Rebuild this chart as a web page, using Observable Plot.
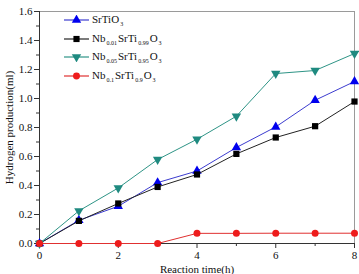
<!DOCTYPE html>
<html>
<head>
<meta charset="utf-8">
<script src="https://cdn.jsdelivr.net/npm/d3@7"></script>
<script src="https://cdn.jsdelivr.net/npm/@observablehq/plot@0.6"></script>
<style>
  html, body { margin: 0; padding: 0; background: #fff; }
  #chart { position: relative; width: 359px; height: 274px; font-family: "Liberation Serif", "Times New Roman", serif; }
  #legend { position: absolute; left: 63px; top: 11px; font-size: 11px; color: #111; }
  #legend .row { display: flex; align-items: center; height: 18.5px; }
  #legend svg { display: block; margin-right: 2px; }
  #legend sub { font-size: 6px; vertical-align: -3px; margin: 0 1px; }
</style>
</head>
<body>
<div id="chart"><div id="legend"></div></div>
<script>
// Reaction time (h)
const hours = [0, 1, 2, 3, 4, 5, 6, 7, 8];
// Hydrogen production (ml) for each photocatalyst
const srtio3 = [0, 0.16, 0.257, 0.42, 0.50, 0.662, 0.804, 0.988, 1.117];
const nb001 = [0, 0.156, 0.276, 0.39, 0.476, 0.618, 0.731, 0.809, 0.979];
const nb005 = [0, 0.225, 0.383, 0.579, 0.719, 0.878, 1.172, 1.193, 1.31];
const nb01 = [0, 0, 0, 0, 0.07, 0.07, 0.071, 0.071, 0.071];

const xMajorTicks = [0, 2, 4, 6, 8];
const xMinorTicks = [1, 3, 5, 7];
const yMajorTicks = [0, 0.2, 0.4, 0.6, 0.8, 1.0, 1.2, 1.4, 1.6];
const yMinorTicks = [0.1, 0.3, 0.5, 0.7, 0.9, 1.1, 1.3, 1.5];

// downward-pointing triangle symbol
const triangleDown = {
  draw(context, size) {
    const y = -Math.sqrt(size / (Math.sqrt(3) * 3));
    context.moveTo(0, -y * 2);
    context.lineTo(-Math.sqrt(3) * y, y);
    context.lineTo(Math.sqrt(3) * y, y);
    context.closePath();
  }
};

const series = [
  {name: "SrTiO<sub>3</sub>", values: srtio3, line: "#3c3ccf", fill: "#0000ee", symbol: "triangle", legendSymbol: d3.symbolTriangle},
  {name: "Nb<sub>0.01</sub>SrTi<sub>0.99</sub>O<sub>3</sub>", values: nb001, line: "#222", fill: "#000", symbol: "square", legendSymbol: d3.symbolSquare},
  {name: "Nb<sub>0.05</sub>SrTi<sub>0.95</sub>O<sub>3</sub>", values: nb005, line: "#2e9486", fill: "#1f8a80", symbol: triangleDown, legendSymbol: triangleDown},
  {name: "Nb<sub>0.1</sub>SrTi<sub>0.9</sub>O<sub>3</sub>", values: nb01, line: "#e03030", fill: "#ee1c1c", symbol: "circle", legendSymbol: d3.symbolCircle}
];

const marks = [
  Plot.frame({stroke: "#9a9a9a"}),
  Plot.axisX({ticks: xMinorTicks, tickSize: 3, tickFormat: () => "", label: null, stroke: "#333"}),
  Plot.axisY({ticks: yMinorTicks, tickSize: 3, tickFormat: () => "", label: null, stroke: "#333"}),
  Plot.axisX({ticks: xMajorTicks, tickSize: 5, tickPadding: 3, label: "Reaction time(h)", labelAnchor: "center", labelArrow: "none", labelOffset: 29, stroke: "#333", color: "#111"}),
  Plot.axisY({ticks: yMajorTicks, tickSize: 5, tickPadding: 2, tickFormat: d3.format(".1f"), label: "Hydrogen production(ml)", labelAnchor: "center", labelArrow: "none", labelOffset: 34, stroke: "#333", color: "#111"}),
  Plot.ruleX([0], {stroke: "#333"}),
  Plot.ruleY([0], {stroke: "#333"})
];

for (const s of series) {
  const data = hours.map((h, i) => ({h, v: s.values[i]}));
  marks.push(Plot.line(data, {x: "h", y: "v", stroke: s.line, strokeWidth: 1}));
  marks.push(Plot.dot(data, {x: "h", y: "v", symbol: s.symbol, fill: s.fill, r: 3.5}));
}

const chart = Plot.plot({
  width: 359,
  height: 274,
  marginLeft: 39,
  marginRight: 5,
  marginTop: 11,
  marginBottom: 31,
  style: {fontFamily: "'Liberation Serif', 'Times New Roman', serif", fontSize: "11px", background: "white", overflow: "visible"},
  x: {domain: [0, 8]},
  y: {domain: [0, 1.6]},
  symbol: {type: "identity"},
  marks
});
document.getElementById("chart").prepend(chart);

// Legend with chemical subscripts
const legend = document.getElementById("legend");
for (const s of series) {
  const row = document.createElement("div");
  row.className = "row";
  const sw = d3.create("svg").attr("width", 27).attr("height", 10);
  sw.append("line").attr("x1", 1).attr("x2", 26).attr("y1", 5).attr("y2", 5).attr("stroke", s.line).attr("stroke-width", 1.2);
  sw.append("path").attr("d", d3.symbol(s.legendSymbol, 38)()).attr("transform", "translate(13.5,5)").attr("fill", s.fill);
  row.append(sw.node());
  const label = document.createElement("span");
  label.innerHTML = s.name;
  row.append(label);
  legend.append(row);
}
</script>
</body>
</html>
